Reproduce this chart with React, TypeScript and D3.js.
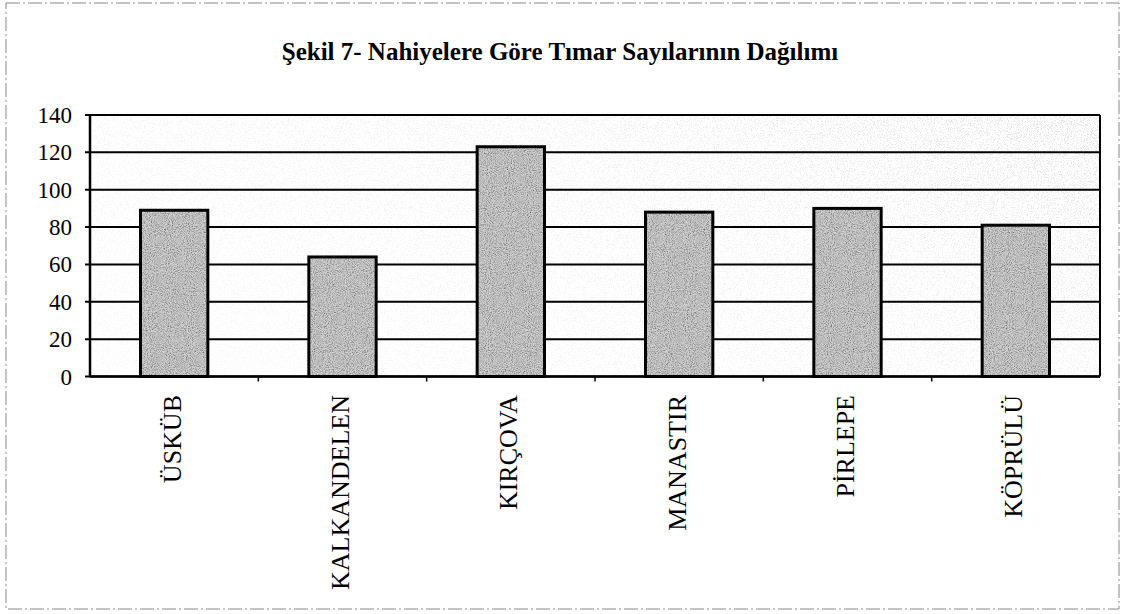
import React from "react";
import * as d3 from "d3";

const categories = ["ÜSKÜB", "KALKANDELEN", "KIRÇOVA", "MANASTIR", "PİRLEPE", "KÖPRÜLÜ"];
const values = [89, 64, 123, 88, 90, 81];
const yTicks = [0, 20, 40, 60, 80, 100, 120, 140];
const title = "Şekil 7- Nahiyelere Göre Tımar Sayılarının Dağılımı";

const W = 1125;
const H = 614;
const left = 90;
const right = 1100;
const top = 115;
const bottom = 376.5;
const serif = "'Liberation Serif', 'Times New Roman', 'DejaVu Serif', serif";

export default function App() {
  const x = d3.scaleBand<string>().domain(categories).range([left, right]).paddingInner(0.6).paddingOuter(0.3);
  const y = d3.scaleLinear().domain([0, 140]).range([bottom, top]);
  const boundaries = d3.range(1, categories.length).map((i) => left + i * ((right - left) / categories.length));

  return (
    <svg width={W} height={H} style={{ position: "absolute", left: 0, top: 0, background: "#fff" }}>
      <defs>
        <filter id="grain" x="0" y="0" width="100%" height="100%">
          <feTurbulence type="fractalNoise" baseFrequency="0.95" numOctaves="2" seed="7" result="noise" />
          <feColorMatrix in="noise" type="saturate" values="0" result="gray" />
          <feComponentTransfer in="gray" result="g2">
            <feFuncR type="linear" slope="2.0" intercept="-0.2" />
            <feFuncG type="linear" slope="2.0" intercept="-0.2" />
            <feFuncB type="linear" slope="2.0" intercept="-0.2" />
            <feFuncA type="linear" slope="0" intercept="1" />
          </feComponentTransfer>
          <feBlend in="SourceGraphic" in2="g2" mode="multiply" result="b" />
          <feComposite in="b" in2="SourceGraphic" operator="in" />
        </filter>
        <filter id="speck" x="0" y="0" width="100%" height="100%">
          <feTurbulence type="fractalNoise" baseFrequency="1.3" numOctaves="1" seed="11" result="noise" />
          <feColorMatrix in="noise" type="matrix" values="0 0 0 0 0.4  0 0 0 0 0.4  0 0 0 0 0.4  -5 0 0 0 2.55" result="dots" />
          <feComposite in="dots" in2="SourceGraphic" operator="in" />
        </filter>
        <linearGradient id="fadeMask" x1="0" y1="0.6" x2="1" y2="0">
          <stop offset="0" stopColor="#fff" stopOpacity="0.25" />
          <stop offset="0.6" stopColor="#fff" stopOpacity="0.5" />
          <stop offset="1" stopColor="#fff" stopOpacity="1" />
        </linearGradient>
        <mask id="bgMask">
          <rect x={left} y={top} width={right - left} height={bottom - top} fill="url(#fadeMask)" />
        </mask>
      </defs>

      {/* outer frame */}
      <rect x={6} y={3} width={1113} height={606} fill="none" stroke="#888" strokeWidth={1} strokeDasharray="14 3 2 3" />

      {/* title */}
      <text x={560} y={60} textAnchor="middle" fontFamily={serif} fontWeight="bold" fontSize={25} fill="#000">
        {title}
      </text>

      {/* plot background speckle */}
      <rect x={left} y={top} width={right - left} height={bottom - top} fill="#fff" />
      <g mask="url(#bgMask)">
        <rect x={left} y={top} width={right - left} height={bottom - top} fill="#000" filter="url(#speck)" opacity={0.35} />
      </g>

      {/* gridlines */}
      {yTicks.map((t) => (
        <line key={"g" + t} x1={left - 5} x2={right} y1={y(t)} y2={y(t)} stroke="#000" strokeWidth={2} />
      ))}
      {/* right border */}
      <line x1={right} x2={right} y1={top} y2={bottom} stroke="#000" strokeWidth={2} />

      {/* bars */}
      {categories.map((c, i) => (
        <g key={c}>
          <rect x={x(c)} y={y(values[i])} width={x.bandwidth()} height={bottom - y(values[i])} fill="#cfcfcf" filter="url(#grain)" />
          <rect x={x(c)} y={y(values[i])} width={x.bandwidth()} height={bottom - y(values[i])} fill="none" stroke="#000" strokeWidth={3} />
        </g>
      ))}

      {/* axes */}
      <line x1={left} x2={left} y1={top} y2={bottom} stroke="#000" strokeWidth={2.5} />
      <line x1={left} x2={right} y1={bottom} y2={bottom} stroke="#000" strokeWidth={2.5} />
      {boundaries.map((bx, i) => (
        <line key={"b" + i} x1={bx} x2={bx} y1={bottom} y2={bottom + 5} stroke="#000" strokeWidth={1.5} />
      ))}

      {/* y tick labels */}
      {yTicks.map((t) => (
        <text key={"t" + t} x={72} y={y(t)} dy="0.35em" textAnchor="end" fontFamily={serif} fontSize={23} fill="#000">
          {t}
        </text>
      ))}

      {/* category labels */}
      {categories.map((c) => {
        const cx = (x(c) as number) + x.bandwidth() / 2 - 2;
        return (
          <text
            key={"l" + c}
            transform={`translate(${cx},395) rotate(-90)`}
            dy="0.33em"
            textAnchor="end"
            fontFamily={serif}
            fontSize={26}
            fill="#000"
          >
            {c}
          </text>
        );
      })}
    </svg>
  );
}
